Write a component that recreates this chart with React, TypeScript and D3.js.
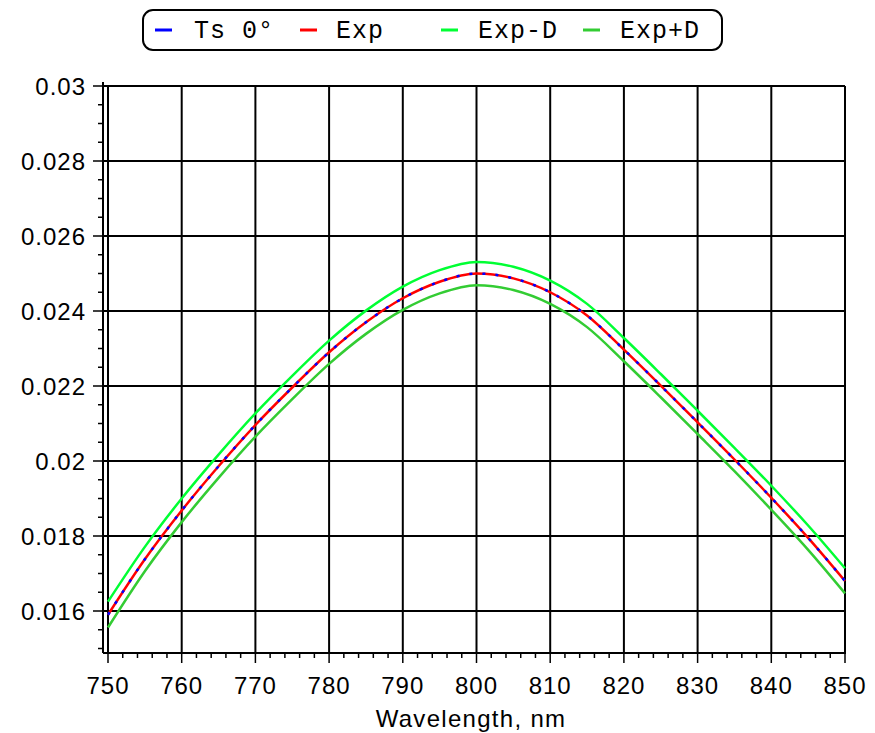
import React from "react";
import * as d3 from "d3";

const wavelengths = [750, 755, 760, 765, 770, 775, 780, 785, 790, 795, 800, 805, 810, 815, 820, 825, 830, 835, 840, 845, 850];
const tsValues = [0.0159, 0.01738, 0.01868, 0.01986, 0.02096, 0.02196, 0.0229, 0.0237, 0.02434, 0.02478, 0.025, 0.02487, 0.0245, 0.02388, 0.02297, 0.02201, 0.02103, 0.02004, 0.01902, 0.01795, 0.0168];
const expValues = [0.0159, 0.01738, 0.01868, 0.01986, 0.02096, 0.02196, 0.0229, 0.0237, 0.02434, 0.02478, 0.025, 0.02487, 0.0245, 0.02388, 0.02297, 0.02201, 0.02103, 0.02004, 0.01902, 0.01795, 0.0168];
const expMinusD = [0.01625, 0.01771, 0.019, 0.02017, 0.02127, 0.02227, 0.02321, 0.02401, 0.02465, 0.02509, 0.02531, 0.02518, 0.02481, 0.02419, 0.02328, 0.02232, 0.02134, 0.02035, 0.01934, 0.01828, 0.01714];
const expPlusD = [0.01556, 0.01706, 0.01837, 0.01955, 0.02065, 0.02165, 0.02259, 0.02339, 0.02403, 0.02447, 0.02469, 0.02456, 0.02419, 0.02357, 0.02266, 0.0217, 0.02072, 0.01973, 0.0187, 0.01763, 0.01647];

const xTicks = [750, 760, 770, 780, 790, 800, 810, 820, 830, 840, 850];
const yTicks = [0.016, 0.018, 0.02, 0.022, 0.024, 0.026, 0.028, 0.03];
const yTickLabels = ["0.016", "0.018", "0.02", "0.022", "0.024", "0.026", "0.028", "0.03"];
const legendLabels = ["Ts 0°", "Exp", "Exp-D", "Exp+D"];
const xLabel = "Wavelength, nm";

export default function App() {
  const W = 875, H = 733;
  const x = d3.scaleLinear().domain([750, 850]).range([108, 845]);
  const y = d3.scaleLinear().domain([0.01488, 0.03]).range([653, 86]);
  const axisX = 103;
  const line = (vals: number[]) =>
    d3.line<number>().x((_, i) => x(wavelengths[i])).y((v) => y(v)).curve(d3.curveMonotoneX)(vals) || "";

  const xMinor = d3.range(750, 851, 2).filter((v) => v % 10 !== 0);
  const yMinor = d3.range(0.015, 0.03001, 0.0005).filter((v) => Math.abs(v * 500 - Math.round(v * 500)) > 1e-6);

  const font = "'Liberation Sans', Arial, sans-serif";
  const legendItems = [
    { label: legendLabels[0], color: "#0000ff", lx: 155, tx: 194 },
    { label: legendLabels[1], color: "#ff0000", lx: 300, tx: 336 },
    { label: legendLabels[2], color: "#00ff33", lx: 441, tx: 478 },
    { label: legendLabels[3], color: "#33cc33", lx: 583, tx: 620 },
  ];

  return (
    <svg width={W} height={H} style={{ position: "absolute", left: 0, top: 0, background: "#fff" }}>
      {/* legend */}
      <rect x={143} y={10} width={579} height={40} rx={10} ry={10} fill="none" stroke="#000" strokeWidth={2} />
      {legendItems.map((it) => (
        <g key={it.label}>
          <line x1={it.lx} x2={it.lx + 17} y1={30} y2={30} stroke={it.color} strokeWidth={3} />
          <text x={it.tx} y={38} fontFamily="'Liberation Mono', 'Courier New', monospace" fontSize={25} letterSpacing={1} fill="#000">
            {it.label}
          </text>
        </g>
      ))}

      {/* grid */}
      {xTicks.map((t) => (
        <line key={"gx" + t} x1={x(t)} x2={x(t)} y1={y(0.03)} y2={653} stroke="#000" strokeWidth={2} />
      ))}
      {yTicks.map((t) => (
        <line key={"gy" + t} x1={axisX} x2={x(850)} y1={y(t)} y2={y(t)} stroke="#000" strokeWidth={2} />
      ))}

      {/* axes */}
      <line x1={axisX} x2={axisX} y1={82} y2={653} stroke="#000" strokeWidth={2} />
      <line x1={axisX} x2={x(850) + 1} y1={653} y2={653} stroke="#000" strokeWidth={2} />
      {yTicks.map((t) => (
        <line key={"yt" + t} x1={93} x2={axisX} y1={y(t)} y2={y(t)} stroke="#000" strokeWidth={1.5} />
      ))}
      {yMinor.map((t) => (
        <line key={"ym" + t} x1={98} x2={axisX} y1={y(t)} y2={y(t)} stroke="#000" strokeWidth={1.5} />
      ))}
      {xTicks.map((t) => (
        <line key={"xt" + t} x1={x(t)} x2={x(t)} y1={653} y2={663} stroke="#000" strokeWidth={1.5} />
      ))}
      {xMinor.map((t) => (
        <line key={"xm" + t} x1={x(t)} x2={x(t)} y1={653} y2={658} stroke="#000" strokeWidth={1.5} />
      ))}
      {yTicks.map((t, i) => (
        <text key={"yl" + t} x={86} y={y(t)} dy="0.36em" textAnchor="end" fontFamily={font} fontSize={24} letterSpacing={1} fill="#000">
          {yTickLabels[i]}
        </text>
      ))}
      {xTicks.map((t) => (
        <text key={"xl" + t} x={x(t)} y={694} textAnchor="middle" fontFamily={font} fontSize={24} letterSpacing={1} fill="#000">
          {t}
        </text>
      ))}
      <text x={471} y={727} textAnchor="middle" fontFamily={font} fontSize={24} letterSpacing={1.3} fill="#000">
        {xLabel}
      </text>

      {/* curves */}
      <path d={line(expMinusD)} fill="none" stroke="#00ff33" strokeWidth={2.5} />
      <path d={line(expPlusD)} fill="none" stroke="#33cc33" strokeWidth={2.5} />
      <path d={line(expValues)} fill="none" stroke="#ff0000" strokeWidth={2.5} />
      <path d={line(tsValues)} fill="none" stroke="#0000ff" strokeWidth={2.5} strokeDasharray="3 10" />
    </svg>
  );
}
